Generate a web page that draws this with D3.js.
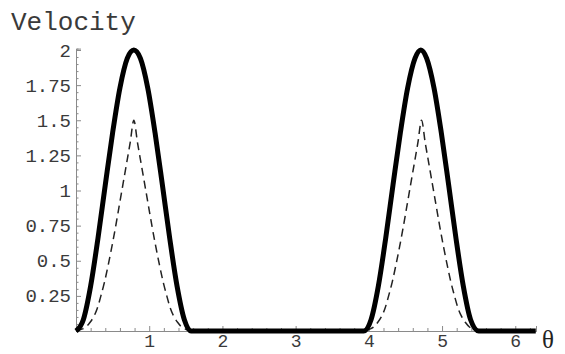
<!DOCTYPE html>
<html>
<head>
<meta charset="utf-8">
<script src="https://cdn.jsdelivr.net/npm/d3@7"></script>
<style>
  html, body { margin: 0; padding: 0; background: #fff; }
  svg { display: block; }
</style>
</head>
<body>
<svg id="chart" width="565" height="354"></svg>
<script>
// ---- data ----
const xTicks = [1, 2, 3, 4, 5, 6];
const yTicks = [0.25, 0.5, 0.75, 1, 1.25, 1.5, 1.75, 2];
const yTickLabels = ["0.25", "0.5", "0.75", "1", "1.25", "1.5", "1.75", "2"];
const xLabel = "θ";
const yLabel = "Velocity";

const solidTheta = [0, 0.1, 0.2, 0.3, 0.4, 0.5, 0.6, 0.7, 0.79, 0.88, 0.98, 1.08, 1.18, 1.28, 1.38, 1.48, 1.57,
                    3.93, 4.03, 4.13, 4.23, 4.33, 4.43, 4.53, 4.63, 4.71, 4.79, 4.89, 4.99, 5.09, 5.19, 5.29, 5.39, 5.50, 6.28];
const solidVel   = [0, 0.08, 0.32, 0.66, 1.04, 1.41, 1.73, 1.94, 2.0, 1.94, 1.73, 1.41, 1.04, 0.66, 0.32, 0.08, 0,
                    0, 0.08, 0.32, 0.66, 1.04, 1.41, 1.73, 1.94, 2.0, 1.94, 1.73, 1.41, 1.04, 0.66, 0.32, 0.08, 0, 0];

const dashTheta = [0, 0.09, 0.14, 0.19, 0.24, 0.29, 0.34, 0.39, 0.44, 0.49, 0.54, 0.59, 0.64, 0.69, 0.74, 0.79,
                   0.84, 0.89, 0.94, 0.99, 1.04, 1.09, 1.14, 1.19, 1.24, 1.29, 1.34, 1.39, 1.44, 1.49, 1.57,
                   3.93, 4.02, 4.07, 4.12, 4.17, 4.22, 4.27, 4.32, 4.37, 4.42, 4.47, 4.52, 4.57, 4.62, 4.67, 4.72,
                   4.77, 4.82, 4.87, 4.92, 4.97, 5.02, 5.07, 5.12, 5.17, 5.22, 5.27, 5.32, 5.37, 5.42, 5.50, 6.28];
const dashVel   = [0, 0.015, 0.03, 0.06, 0.10, 0.16, 0.25, 0.35, 0.47, 0.60, 0.74, 0.89, 1.04, 1.19, 1.34, 1.5,
                   1.34, 1.19, 1.04, 0.89, 0.74, 0.60, 0.47, 0.35, 0.25, 0.16, 0.10, 0.06, 0.03, 0.015, 0,
                   0, 0.015, 0.03, 0.06, 0.10, 0.16, 0.25, 0.35, 0.47, 0.60, 0.74, 0.89, 1.04, 1.19, 1.34, 1.5,
                   1.34, 1.19, 1.04, 0.89, 0.74, 0.60, 0.47, 0.35, 0.25, 0.16, 0.10, 0.06, 0.03, 0.015, 0, 0];

// ---- layout ----
const svg = d3.select("#chart");
const x = d3.scaleLinear().domain([0, 2 * Math.PI]).range([76, 536]);
const y = d3.scaleLinear().domain([0, 2]).range([331, 50]);
const yAxisScale = y.copy().domain([0, 2.01]).range([331, 48.6]);

const axisColor = "#8a8a8a";
const textColor = "#3a3a3a";
const monoFont = "'Liberation Mono', 'DejaVu Sans Mono', monospace";

function styleAxis(g, fs) {
  g.select(".domain").attr("stroke", axisColor).attr("stroke-width", 1);
  g.selectAll(".tick line").attr("stroke", axisColor).attr("stroke-width", 1);
  g.selectAll(".tick text").attr("fill", textColor)
    .style("font-family", monoFont).style("font-size", (fs || 19) + "px");
}

// minor ticks
const xMinor = d3.range(0.2, 6.3, 0.2).filter(v => Math.abs(v - Math.round(v)) > 1e-6);
const yMinor = d3.range(0.05, 2.001, 0.05).filter(v => Math.abs(v * 4 - Math.round(v * 4)) > 1e-6);

svg.append("g").attr("transform", `translate(0,${y(0)})`)
  .call(d3.axisBottom(x).tickValues(xMinor).tickSize(-3).tickFormat(""))
  .call(styleAxis);
svg.append("g").attr("transform", `translate(${x(0)},0)`)
  .call(d3.axisLeft(yAxisScale).tickValues(yMinor).tickSize(-2.5).tickFormat(""))
  .call(styleAxis);

// major ticks with labels
svg.append("g").attr("transform", `translate(0,${y(0)})`)
  .call(d3.axisBottom(x).tickValues(xTicks).tickSize(-5).tickPadding(3).tickFormat(d3.format("d")))
  .call(g => styleAxis(g, 18));
svg.append("g").attr("transform", `translate(${x(0)},0)`)
  .call(d3.axisLeft(yAxisScale).tickValues(yTicks).tickSize(-5).tickPadding(5)
        .tickFormat((d, i) => yTickLabels[i]))
  .call(g => styleAxis(g, 19));

// curves
const line = d3.line().x(d => x(d[0])).y(d => y(d[1])).curve(d3.curveMonotoneX);

svg.append("path")
  .datum(dashTheta.map((t, i) => [t, dashVel[i]]))
  .attr("d", line)
  .attr("fill", "none").attr("stroke", "#222").attr("stroke-width", 1.5)
  .attr("stroke-dasharray", "8,5");

svg.append("path")
  .datum(solidTheta.map((t, i) => [t, solidVel[i]]))
  .attr("d", line)
  .attr("fill", "none").attr("stroke", "#000").attr("stroke-width", 5)
  .attr("stroke-linejoin", "round");

// axis labels
svg.append("text").attr("x", 11).attr("y", 30)
  .attr("fill", textColor)
  .style("font-family", monoFont).style("font-size", "26px")
  .text(yLabel);

svg.append("text").attr("x", 542).attr("y", 348)
  .attr("fill", "#222")
  .style("font-family", "'Liberation Serif', 'DejaVu Serif', serif").style("font-size", "25px")
  .text(xLabel);
</script>
</body>
</html>
